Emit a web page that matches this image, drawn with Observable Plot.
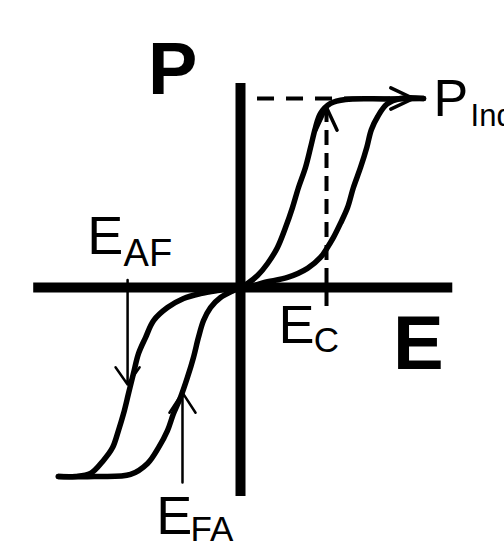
<!DOCTYPE html>
<html>
<head>
<meta charset="utf-8">
<script src="https://cdn.jsdelivr.net/npm/d3@7"></script>
<script src="https://cdn.jsdelivr.net/npm/@observablehq/plot@0.6"></script>
<style>
  html, body { margin: 0; padding: 0; background: #fff; }
  #chart { width: 504px; height: 548px; overflow: hidden; }
</style>
</head>
<body>
<div id="chart"></div>
<script>
// Double hysteresis loop of an antiferroelectric: field E and polarization P,
// both in units of the saturation values (E_max = 1, P_ind = 1).

// First quadrant: field increasing (AF -> FE switching branch)
const q1Rising = [
  [0, 0], [0.038, 0.0], [0.126, 0.026], [0.257, 0.053], [0.366, 0.101],
  [0.437, 0.159], [0.475, 0.212], [0.508, 0.265], [0.546, 0.339],
  [0.585, 0.423], [0.617, 0.529], [0.656, 0.635], [0.690, 0.741],
  [0.715, 0.835], [0.750, 0.905], [0.800, 0.970], [0.874, 1.0], [1.0, 1.0]
];
// First quadrant: field decreasing (FE -> AF back-switching branch)
const q1Falling = [
  [1.0, 1.0], [0.80, 0.998], [0.574, 0.995], [0.492, 0.974], [0.437, 0.921],
  [0.410, 0.847], [0.383, 0.741], [0.355, 0.635], [0.317, 0.529],
  [0.284, 0.423], [0.246, 0.317], [0.202, 0.212], [0.148, 0.127],
  [0.093, 0.063], [0.038, 0.021], [0, 0]
];
// Third quadrant: field growing negative
const q3Falling = [
  [0, 0], [-0.038, -0.005], [-0.126, -0.016], [-0.219, -0.032], [-0.311, -0.058],
  [-0.399, -0.106], [-0.475, -0.175], [-0.519, -0.265], [-0.557, -0.349],
  [-0.585, -0.455], [-0.612, -0.561], [-0.639, -0.667], [-0.667, -0.757],
  [-0.699, -0.847], [-0.749, -0.915], [-0.820, -0.984], [-0.902, -1.0], [-0.995, -1.0]
];
// Third quadrant: field returning to zero
const q3Rising = [
  [-0.995, -1.0], [-0.80, -1.0], [-0.601, -0.989], [-0.508, -0.931],
  [-0.448, -0.847], [-0.399, -0.757], [-0.366, -0.667], [-0.328, -0.582],
  [-0.290, -0.476], [-0.257, -0.370], [-0.230, -0.265], [-0.202, -0.175],
  [-0.164, -0.106], [-0.109, -0.053], [-0.038, -0.016], [0, 0]
];

// Characteristic values
const Pind = 1.0;      // induced polarization
const Ec = 0.47;       // critical field
const Eaf = -0.617;    // AF -> FE switching field
const Efa = -0.317;    // FE -> AF switching field

// Extent of the drawn E and P axes
const axisE = [-1.13, 1.16];
const axisP = [-1.106, 1.079];

// Axis letters (bold) and annotation labels with subscripts
const axisLetters = [
  {text: "P", E: -0.505, P: 1.026, size: 74},
  {text: "E", E: 0.833, P: -0.429, size: 76}
];
const labels = [
  {text: "P",   E: 1.055,  P: 0.910,  size: 52},
  {text: "Ind", E: 1.257,  P: 0.857,  size: 31},
  {text: "E",   E: -0.837, P: 0.175,  size: 54},
  {text: "AF",  E: -0.639, P: 0.112,  size: 38},
  {text: "E",   E: 0.207,  P: -0.296, size: 54},
  {text: "C",   E: 0.400,  P: -0.339, size: 35},
  {text: "E",   E: -0.460, P: -1.302, size: 54},
  {text: "FA",  E: -0.273, P: -1.339, size: 35}
];

const branches = {q1Rising, q1Falling, q3Falling, q3Rising};
const loopRows = Object.entries(branches).flatMap(([branch, pts]) =>
  pts.map(([E, P]) => ({branch, E, P}))
);

// Open arrowhead (two wings meeting at the tip) for the dashed guides
const chevron = {
  draw(context, l) {
    const a = 25 * Math.PI / 180;
    context.moveTo(-l * Math.sin(a), l * Math.cos(a));
    context.lineTo(0, 0);
    context.lineTo(l * Math.sin(a), l * Math.cos(a));
  }
};

const chart = Plot.plot({
  width: 504,
  height: 548,
  margin: 0,
  x: {domain: [-240 / 183, 264 / 183], axis: null},
  y: {domain: [-261 / 189, 287 / 189], axis: null},
  style: {fontFamily: "'Liberation Sans', Arial, sans-serif", background: "#fff"},
  marks: [
    // axes
    Plot.ruleY([0], {x1: axisE[0], x2: axisE[1], stroke: "#000", strokeWidth: 10}),
    Plot.ruleX([0], {y1: axisP[0], y2: axisP[1], stroke: "#000", strokeWidth: 10}),
    // hysteresis loops
    Plot.line(loopRows, {
      x: "E", y: "P", z: "branch", curve: "catmull-rom",
      stroke: "#000", strokeWidth: 5.5, strokeLinejoin: "round", strokeLinecap: "round"
    }),
    // dashed guides for P_ind and E_C
    Plot.ruleY([Pind], {x1: 0.093, x2: 0.94, stroke: "#000", strokeWidth: 4, strokeDasharray: "17,12"}),
    Plot.ruleX([Ec], {y1: -0.10, y2: 0.95, stroke: "#000", strokeWidth: 4, strokeDasharray: "15,8"}),
    Plot.vector([{E: Ec, P: 0.952, r: 0}, {E: 0.945, P: Pind, r: 90}], {
      x: "E", y: "P", rotate: "r", length: 25, anchor: "start", shape: chevron,
      stroke: "#000", strokeWidth: 3.5, fill: "none", strokeLinecap: "round", strokeLinejoin: "round"
    }),
    // switching-field arrows
    Plot.arrow([{E: Eaf, P0: 0.04, P1: -0.513}], {
      x1: "E", x2: "E", y1: "P0", y2: "P1",
      stroke: "#000", strokeWidth: 2.5, headLength: 12.6, headAngle: 70
    }),
    Plot.arrow([{E: Efa, P0: -1.032, P1: -0.556}], {
      x1: "E", x2: "E", y1: "P0", y2: "P1",
      stroke: "#000", strokeWidth: 2.5, headLength: 14.4, headAngle: 66
    }),
    // text
    Plot.text(axisLetters, {
      x: "E", y: "P", text: "text", fontSize: "size", fontWeight: "bold",
      textAnchor: "start", lineAnchor: "bottom", fill: "#000"
    }),
    Plot.text(labels, {
      x: "E", y: "P", text: "text", fontSize: "size",
      textAnchor: "start", lineAnchor: "bottom", fill: "#000"
    })
  ]
});

document.getElementById("chart").append(chart);
</script>
</body>
</html>
